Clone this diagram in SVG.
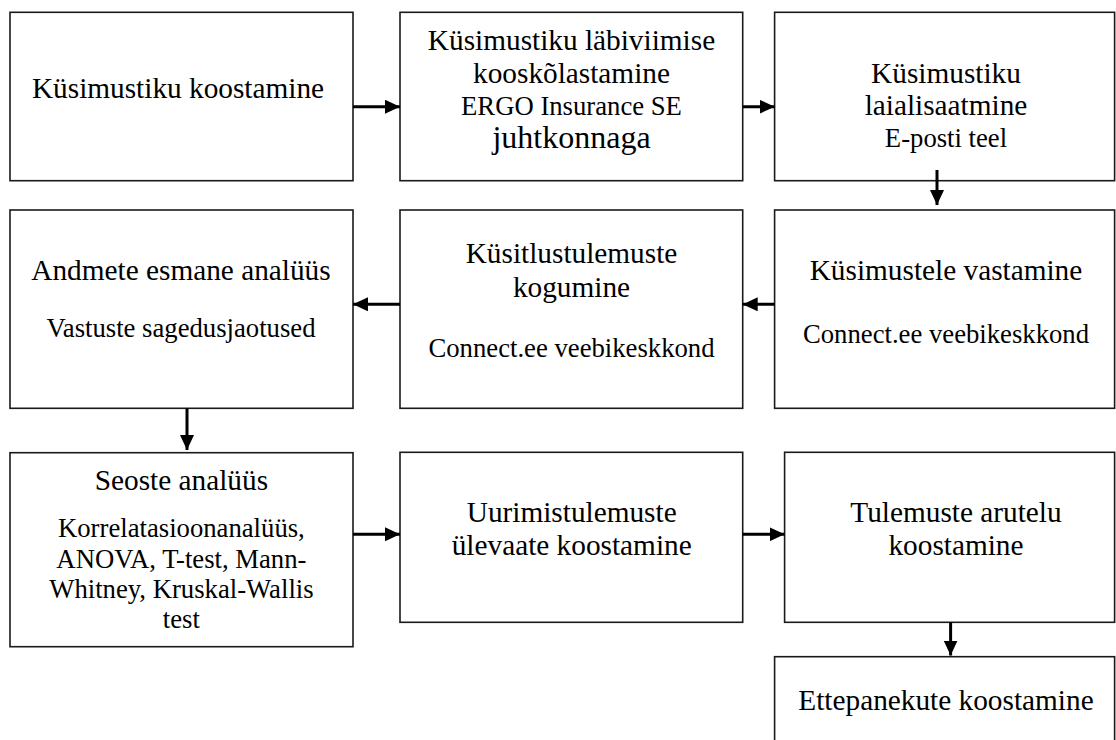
<svg xmlns="http://www.w3.org/2000/svg" width="1116" height="740" viewBox="0 0 1116 740">
<defs>
<style>
.box{fill:#fff;stroke:#1a1a1a;stroke-width:1.6}
.t{font-family:"Liberation Serif","Times New Roman",serif;fill:#000;text-anchor:middle}
.m{font-size:29.3px}
.s{font-size:26.7px}
.l{font-size:32px}
.c{fill:none;stroke:#000;stroke-width:3}
</style>
<marker id="ah" markerWidth="15" markerHeight="14" refX="15" refY="7" orient="auto" markerUnits="userSpaceOnUse">
<path d="M0,0 L15,7 L0,14 z" fill="#000"/>
</marker>
</defs>
<rect width="1116" height="740" fill="#fff"/>

<g id="n1">
<rect class="box" x="10" y="12.3" width="343" height="168.4"/>
<text class="t m" x="178" y="98">Küsimustiku koostamine</text>
</g>
<g id="n2">
<rect class="box" x="400" y="12.3" width="342.7" height="168.4"/>
<text class="t m" x="571.5" y="50">Küsimustiku läbiviimise</text>
<text class="t m" x="571.5" y="82.5">kooskõlastamine</text>
<text class="t s" x="571.5" y="115">ERGO Insurance SE</text>
<text class="t l" x="571.5" y="147.5">juhtkonnaga</text>
</g>
<g id="n3">
<rect class="box" x="774.6" y="12.3" width="340" height="168.4"/>
<text class="t m" x="946" y="82.5">Küsimustiku</text>
<text class="t m" x="946" y="115">laialisaatmine</text>
<text class="t s" x="946" y="146.7">E-posti teel</text>
</g>
<g id="n4">
<rect class="box" x="10" y="210" width="343" height="198.3"/>
<text class="t m" x="181" y="280">Andmete esmane analüüs</text>
<text class="t s" x="181" y="336.7">Vastuste sagedusjaotused</text>
</g>
<g id="n5">
<rect class="box" x="400" y="210" width="342.7" height="198.3"/>
<text class="t m" x="571.5" y="263.3">Küsitlustulemuste</text>
<text class="t m" x="571.5" y="296.7">kogumine</text>
<text class="t s" x="571.5" y="356.7">Connect.ee veebikeskkond</text>
</g>
<g id="n6">
<rect class="box" x="774.6" y="210" width="340" height="198.3"/>
<text class="t m" x="946" y="280">Küsimustele vastamine</text>
<text class="t s" x="946" y="343.3">Connect.ee veebikeskkond</text>
</g>
<g id="n7">
<rect class="box" x="10" y="452.7" width="343" height="194"/>
<text class="t m" x="181.4" y="490">Seoste analüüs</text>
<text class="t s" x="181.4" y="537.3">Korrelatasioonanalüüs,</text>
<text class="t s" x="181.4" y="567.5">ANOVA, T-test, Mann-</text>
<text class="t s" x="181.4" y="598.3">Whitney, Kruskal-Wallis</text>
<text class="t s" x="181.4" y="628.3">test</text>
</g>
<g id="n8">
<rect class="box" x="400" y="452.3" width="342.7" height="170"/>
<text class="t m" x="571.7" y="521.7">Uurimistulemuste</text>
<text class="t m" x="571.7" y="555">ülevaate koostamine</text>
</g>
<g id="n9">
<rect class="box" x="784.6" y="452.3" width="330" height="170"/>
<text class="t m" x="956" y="521.7">Tulemuste arutelu</text>
<text class="t m" x="956" y="555">koostamine</text>
</g>
<g id="n10">
<rect class="box" x="774.6" y="656.7" width="340" height="120"/>
<text class="t m" x="946" y="710">Ettepanekute koostamine</text>
</g>

<g id="connectors">
<line class="c" x1="353" y1="106.7" x2="400" y2="106.7" marker-end="url(#ah)"/>
<line class="c" x1="742.7" y1="106.7" x2="774.6" y2="106.7" marker-end="url(#ah)"/>
<line class="c" x1="937" y1="170" x2="937" y2="205" marker-end="url(#ah)"/>
<line class="c" x1="774.6" y1="304.3" x2="742.7" y2="304.3" marker-end="url(#ah)"/>
<line class="c" x1="400" y1="304.3" x2="353" y2="304.3" marker-end="url(#ah)"/>
<line class="c" x1="187" y1="408.3" x2="187" y2="450" marker-end="url(#ah)"/>
<line class="c" x1="353" y1="534.3" x2="400" y2="534.3" marker-end="url(#ah)"/>
<line class="c" x1="742.7" y1="534.3" x2="784.6" y2="534.3" marker-end="url(#ah)"/>
<line class="c" x1="950.6" y1="622.3" x2="950.6" y2="655.5" marker-end="url(#ah)"/>
</g>
</svg>
